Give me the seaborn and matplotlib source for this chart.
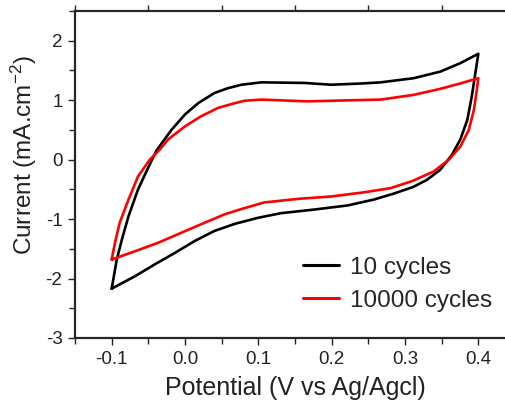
import matplotlib
matplotlib.use("Agg")
import matplotlib.pyplot as plt
import seaborn as sns
import pandas as pd
from matplotlib.ticker import MultipleLocator, FixedLocator

# 10 cycles (closed CV loop: anodic branch then cathodic branch)
pot_10 = [-0.100, -0.093, -0.086, -0.077, -0.064, -0.050, -0.039, -0.0185, 0.000, 0.018,
          0.040, 0.058, 0.077, 0.104, 0.163, 0.199, 0.240, 0.267, 0.312, 0.348, 0.375, 0.400,
          0.396, 0.391, 0.385, 0.3755, 0.364, 0.348, 0.330, 0.311, 0.285, 0.258, 0.222,
          0.176, 0.131, 0.099, 0.068, 0.040, 0.013, -0.014, -0.041, -0.068, -0.100]
cur_10 = [-2.17, -1.68, -1.34, -0.95, -0.50, -0.13, 0.15, 0.50, 0.76, 0.95,
          1.12, 1.20, 1.26, 1.30, 1.29, 1.26, 1.28, 1.30, 1.37, 1.48, 1.62, 1.78,
          1.46, 1.06, 0.67, 0.34, 0.08, -0.17, -0.34, -0.46, -0.57, -0.67, -0.77,
          -0.84, -0.90, -0.98, -1.08, -1.20, -1.37, -1.57, -1.76, -1.96, -2.17]

# 10000 cycles
pot_10k = [-0.100, -0.0955, -0.089, -0.077, -0.064, -0.048, -0.0344, -0.023, 0.000, 0.022,
           0.045, 0.068, 0.081, 0.104, 0.167, 0.231, 0.267, 0.312, 0.348, 0.375, 0.400,
           0.398, 0.394, 0.387, 0.3755, 0.360, 0.339, 0.310, 0.280, 0.244, 0.199, 0.154,
           0.108, 0.077, 0.054, 0.027, -0.005, -0.037, -0.068, -0.100]
cur_10k = [-1.68, -1.40, -1.06, -0.67, -0.28, 0.00, 0.17, 0.34, 0.56, 0.73,
           0.87, 0.95, 0.99, 1.01, 0.98, 1.00, 1.01, 1.09, 1.19, 1.28, 1.37,
           1.18, 0.84, 0.50, 0.22, 0.00, -0.20, -0.36, -0.48, -0.55, -0.62, -0.66,
           -0.72, -0.83, -0.92, -1.06, -1.23, -1.40, -1.54, -1.68]

labels = ["10 cycles", "10000 cycles"]
colors = ["black", "#ff0000"]

df = pd.concat([
    pd.DataFrame({"Potential": pot_10, "Current": cur_10, "Sample": labels[0]}),
    pd.DataFrame({"Potential": pot_10k, "Current": cur_10k, "Sample": labels[1]}),
], ignore_index=True)

sns.set_style("ticks")
plt.rcParams["font.family"] = ["Liberation Sans", "DejaVu Sans"]
plt.rcParams["mathtext.fontset"] = "custom"
plt.rcParams["mathtext.rm"] = "Liberation Sans"
plt.rcParams["mathtext.it"] = "Liberation Sans"

fig = plt.figure(figsize=(5.05, 4.01), dpi=100)
ax = fig.add_axes([75/505, 63/401, 440/505, 327/401])

sns.lineplot(data=df, x="Potential", y="Current", hue="Sample", palette=colors,
             sort=False, estimator=None, units="Sample", lw=1.9, ax=ax)
for ln in ax.get_lines():
    ln.set_solid_joinstyle("round")

ax.set_xlim(-0.15, 0.45)
ax.set_ylim(-3, 2.5)
ax.xaxis.set_major_locator(FixedLocator([-0.1, 0.0, 0.1, 0.2, 0.3, 0.4]))
ax.xaxis.set_minor_locator(MultipleLocator(0.05))
ax.set_xticklabels(["-0.1", "0.0", "0.1", "0.2", "0.3", "0.4"])
ax.yaxis.set_major_locator(FixedLocator([-3, -2, -1, 0, 1, 2]))
ax.yaxis.set_minor_locator(MultipleLocator(0.5))
ax.set_yticklabels(["-3", "-2", "-1", "0", "1", "2"])

for s in ax.spines.values():
    s.set_linewidth(1.6)
ax.tick_params(which="major", direction="out", length=5, width=1, labelsize=13.5, colors="#222222", pad=4)
ax.tick_params(which="minor", direction="out", length=4, width=1, top=True)
ax.tick_params(which="major", top=False)

ax.set_xlabel("Potential (V vs Ag/Agcl)", fontsize=18, labelpad=6, color="#222222")
ax.set_ylabel("Current (mA.cm$^{-2}$)", fontsize=17.5, color="#222222")
ax.yaxis.set_label_coords(-0.082, 0.56)

leg = ax.legend(loc="upper left", bbox_to_anchor=(0.518, 0.249), frameon=False, fontsize=17.5,
                handlelength=1.5, handletextpad=0.45, labelspacing=0.45, borderpad=0,
                borderaxespad=0)
for line in leg.get_lines():
    line.set_linewidth(2.2)

fig.savefig("out.png", dpi=100)
